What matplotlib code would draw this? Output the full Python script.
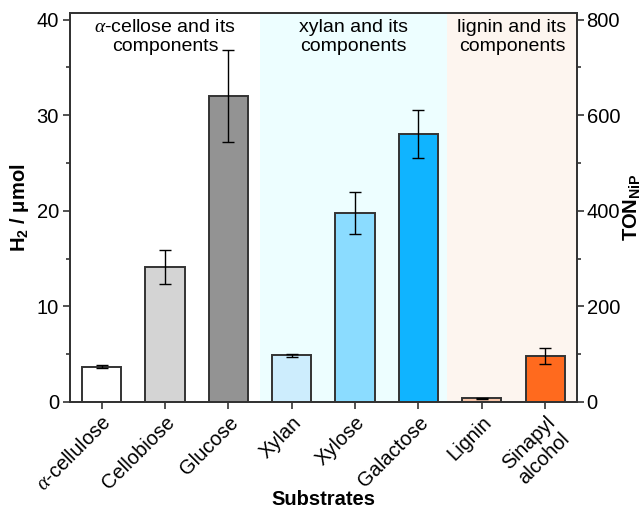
import matplotlib
matplotlib.use("Agg")
import matplotlib.pyplot as plt
import numpy as np

plt.rcParams['font.family'] = ['Liberation Sans', 'DejaVu Sans']
plt.rcParams['mathtext.fontset'] = 'custom'
plt.rcParams['mathtext.rm'] = 'Liberation Sans'
plt.rcParams['mathtext.bf'] = 'Liberation Sans:bold'
plt.rcParams['mathtext.it'] = 'Liberation Serif:italic'

# data
substrates = [r'$\mathit{\alpha}$-cellulose', 'Cellobiose', 'Glucose', 'Xylan',
              'Xylose', 'Galactose', 'Lignin', 'Sinapyl\nalcohol']
h2 = [3.7, 14.1, 32.0, 4.9, 19.8, 28.0, 0.4, 4.8]
h2_err = [0.12, 1.8, 4.8, 0.15, 2.2, 2.5, 0.05, 0.85]
colors = ['#ffffff', '#d4d4d4', '#939393', '#cdedfd', '#8bdcff', '#10b4ff',
          '#f8c6aa', '#ff6a1e']
groups = [r'$\mathit{\alpha}$-cellose and its' + '\ncomponents',
          'xylan and its\ncomponents', 'lignin and its\ncomponents']
group_edges = [-0.5, 2.5, 5.45, 7.5]
group_bg = ['#ffffff', '#edfeff', '#fdf5ef']

fs = 14.5
fig = plt.figure(figsize=(6.44, 5.08), dpi=100)
ax = fig.add_axes([0.1087, 0.2087, 0.787, 0.766])
x = np.arange(len(substrates))

for i in range(len(groups)):
    ax.axvspan(group_edges[i], group_edges[i+1], color=group_bg[i], zorder=0, lw=0)
    ax.text((group_edges[i] + group_edges[i+1]) / 2, 0.985, groups[i],
            transform=ax.get_xaxis_transform(), ha='center', va='top', fontsize=14)

ax.bar(x, h2, width=0.62, color=colors, edgecolor='#333333', linewidth=1.4, zorder=2)
ax.errorbar(x, h2, yerr=h2_err, fmt='none', ecolor='black', elinewidth=1,
            capsize=4, capthick=1, zorder=3)

ax.set_xlim(-0.5, 7.5)
ax.set_ylim(0, 40.7)
ax.set_yticks([0, 10, 20, 30, 40])
ax.set_yticks([5, 15, 25, 35], minor=True)
ax.set_xticks(x)
ax.set_xticklabels(substrates, rotation=45, ha='right', rotation_mode='anchor',
                   fontsize=fs, multialignment='center')
ax.tick_params(axis='both', direction='out', length=5, width=1.2, labelsize=fs,
               color='#333333', pad=3)
ax.tick_params(axis='y', which='minor', direction='out', length=3, width=1.2,
               color='#333333')
for s in ax.spines.values():
    s.set_linewidth(1.3)
    s.set_color('#333333')
ax.set_xlabel('Substrates', fontsize=fs, fontweight='bold')
ax.xaxis.set_label_coords(0.5, -0.226)
ax.set_ylabel(r'$\mathbf{H_2}$ / μmol', fontsize=fs, fontweight='bold', labelpad=4)

ax2 = ax.twinx()
ax2.set_ylim(0, 40.7 * 20)
ax2.set_yticks([0, 200, 400, 600, 800])
ax2.set_yticks([100, 300, 500, 700], minor=True)
ax2.tick_params(axis='y', direction='out', length=5, width=1.2, labelsize=fs,
                color='#333333', pad=2)
ax2.tick_params(axis='y', which='minor', direction='out', length=3, width=1.2,
                color='#333333')
for s in ax2.spines.values():
    s.set_linewidth(1.3)
    s.set_color('#333333')
ax2.set_ylabel(r'$\mathbf{TON_{NiP}}$', fontsize=fs, labelpad=1)

fig.savefig('out.png', dpi=100)
